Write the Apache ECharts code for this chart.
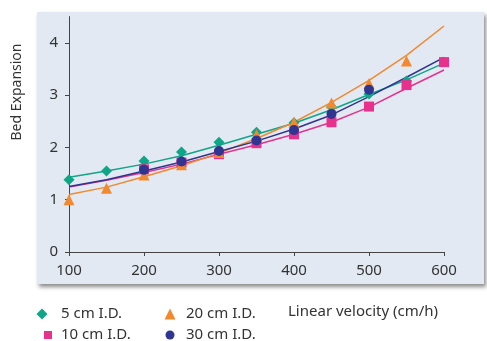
<!DOCTYPE html>
<html><head><meta charset="utf-8">
<script src="https://cdn.jsdelivr.net/npm/echarts@6/dist/echarts.min.js"></script>
<style>html,body{margin:0;padding:0;background:#fff}#c{width:487px;height:341px}</style>
</head><body><div id="c"></div>
<script>
const velocities = [100,150,200,250,300,350,400,450,500,550,600];
// fitted curves
const fit5  = [1.43,1.55,1.68,1.84,2.04,2.25,2.46,2.72,3.01,3.29,3.61];
const fit10 = [1.24,1.37,1.52,1.68,1.87,2.05,2.25,2.48,2.77,3.13,3.48];
const fit20 = [1.10,1.24,1.44,1.65,1.89,2.17,2.48,2.86,3.28,3.76,4.32];
const fit30 = [1.25,1.38,1.55,1.72,1.92,2.12,2.35,2.62,2.97,3.34,3.72];
// measured points
const x5  = [100,150,200,250,300,350,400,450,500,550];
const y5  = [1.38,1.55,1.74,1.91,2.10,2.29,2.47,2.77,3.02,3.27];
const x10 = [200,250,300,350,400,450,500,550,600];
const y10 = [1.58,1.71,1.87,2.08,2.25,2.48,2.78,3.19,3.63];
const x20 = [100,150,200,250,300,350,400,450,500,550];
const y20 = [1.00,1.22,1.47,1.67,1.90,2.24,2.48,2.85,3.22,3.65];
const x30 = [200,250,300,350,400,450,500];
const y30 = [1.57,1.73,1.93,2.13,2.33,2.64,3.10];
const names = ['5 cm I.D.','10 cm I.D.','20 cm I.D.','30 cm I.D.'];
const xTicks = [100,200,300,400,500,600];
const yTicks = [0,1,2,3,4];

const colors = ['#0fa587','#e8318c','#f2892f','#2f3590'];
const symbols = ['diamond','rect','triangle','circle'];
const sizes = [11,10,11,10];
const fits = [fit5,fit10,fit20,fit30];
const pts = [[x5,y5],[x10,y10],[x20,y20],[x30,y30]];
const FONT = 'Noto Sans';

const series = [];
fits.forEach((f,i)=>{
  series.push({type:'line', name:'fit'+i, data: velocities.map((v,j)=>[v,f[j]]),
    showSymbol:false, lineStyle:{color:colors[i], width:1.5}, itemStyle:{color:colors[i]}, z:2, silent:true});
});
[0,1,2,3].forEach(i=>{
  series.push({type:'scatter', name:names[i], data: pts[i][0].map((v,j)=>[v,pts[i][1][j]]),
    symbol:symbols[i], symbolSize:sizes[i], itemStyle:{color:colors[i], opacity:1}, z:3});
});

// legend layout: icon centre x, centre y, icon size, text start x
const legLayout = [[42,314,11,61],[48,335,8,61],[170,314,11,186],[170,335,9,186]];
const legends = names.map((n,i)=>{
  const [cx,cy,s,tx] = legLayout[i];
  return {data:[n], left:cx-s/2, top:cy-10, orient:'horizontal', padding:0,
    itemWidth:s, itemHeight:s, selectedMode:false,
    textStyle:{color:'#333', fontFamily:FONT, fontSize:15, lineHeight:20, padding:[0,0,0,tx-(cx+s/2+5)]}};
});

const chart = echarts.init(document.getElementById('c'), null, {renderer:'canvas'});
chart.setOption({
  animation:false,
  backgroundColor:'#fff',
  graphic:[{type:'rect', shape:{x:37,y:12,width:447,height:272}, z:-10,
    style:{fill:'#e3e9f3', shadowColor:'rgba(0,0,0,0.45)', shadowBlur:4, shadowOffsetX:2, shadowOffsetY:3}},
    {type:'text', left:288, top:304, z:10, style:{text:'Linear velocity (cm/h)', font:'15px "Noto Sans"', fill:'#333'}},
    {type:'text', x:17, y:92, rotation:Math.PI/2, z:10,
     style:{text:'Bed Expansion', font:'14px "Noto Sans"', fill:'#333', align:'center', verticalAlign:'middle'}}],
  grid:{left:69, right:43, top:16.6, bottom:89},
  xAxis:{type:'value', min:100, max:600, interval:100,
    axisLine:{lineStyle:{color:'#444', width:1}},
    axisTick:{show:true, length:4, lineStyle:{color:'#444'}},
    axisLabel:{color:'#333', fontFamily:FONT, fontSize:15, margin:11},
    splitLine:{show:false}},
  yAxis:{type:'value', min:0, max:4.5,
    axisLine:{show:true, lineStyle:{color:'#444', width:1}},
    axisTick:{show:true, length:4, customValues:yTicks, lineStyle:{color:'#444'}},
    axisLabel:{color:'#333', fontFamily:FONT, fontSize:15, margin:11, customValues:yTicks},
    splitLine:{show:false}},
  legend: legends,
  series: series
});
</script></body></html>
